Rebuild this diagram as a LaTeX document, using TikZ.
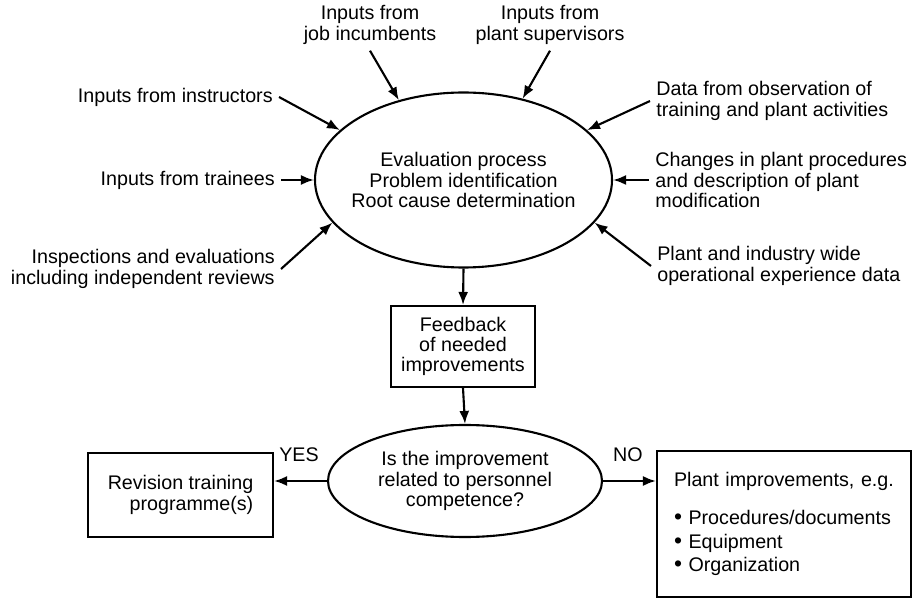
\documentclass[tikz,border=0pt]{standalone}
\usepackage{xcolor}
\usepackage{fontspec}
\setmainfont{Liberation Sans}
\usepackage{tikz}
\usetikzlibrary{arrows.meta}
\usetikzlibrary{shapes.geometric}

\begin{document}
\begin{tikzpicture}[
	lbl/.style={inner sep=0.12cm, font=\fontsize{11.2}{11.6}\selectfont},
	wire/.style={line width=1.2pt, -{Latex[length=0.26cm, width=0.2cm]}},
	outline/.style={draw, line width=1.2pt, inner sep=0}]
	\useasboundingbox (0, 0) rectangle (18.3, 12.12);
	% Paths, nodes and wires:
	\node[outline, shape=ellipse, minimum width=5.94cm, minimum height=3.5cm](Ell1) at (9.27, 8.52){} node[lbl, align=center](Txt9) at (Ell1.center){Evaluation process\\Problem identification\\Root cause determination};
	\node[outline, lbl, inner sep=0, shape=rectangle, minimum width=2.88cm, minimum height=1.62cm, align=center](Rect1) at (9.26, 5.19){Feedback\\of needed\\improvements};
	\node[outline, shape=ellipse, minimum width=5.48cm, minimum height=2.24cm](Ell2) at (9.3, 2.5){} node[lbl, align=center](Txt10) at (Ell2.center){Is the improvement\\related to personnel\\competence?};
	\node[outline, lbl, inner sep=0, shape=rectangle, minimum width=3.7cm, minimum height=1.68cm, align=right](Rect2) at (3.61, 2.22){Revision training\\programme(s)};
	\node[outline, lbl, shape=rectangle, minimum width=5.08cm, minimum height=2.92cm, inner xsep=0.34cm, inner ysep=0, text width=4.4cm, align=left](Rect3) at (15.68, 1.64){Plant improvements, e.g.\\[0.36cm]{\fontsize{13}{11.6}\selectfont\textbullet}\ Procedures/documents\\[0.06cm]{\fontsize{13}{11.6}\selectfont\textbullet}\ Equipment\\[0.06cm]{\fontsize{13}{11.6}\selectfont\textbullet}\ Organization};
	\node[lbl](Txt11) at (5.98, 3.02){YES};
	\node[lbl](Txt12) at (12.56, 3.02){NO};
	% Inputs round the evaluation:
	\node[lbl, align=center](Txt1) at (7.4, 11.62){Inputs from\\job incumbents};
	\node[lbl, align=center](Txt2) at (11.0, 11.62){Inputs from\\plant supervisors};
	\node[lbl, anchor=east](Txt3) at (5.58, 10.18){Inputs from instructors};
	\node[lbl, anchor=east](Txt4) at (5.62, 8.52){Inputs from trainees};
	\node[lbl, anchor=east, align=right](Txt5) at (5.62, 6.74){Inspections and evaluations\\including independent reviews};
	\node[lbl, anchor=west, align=left](Txt6) at (13.0, 10.1){Data from observation of\\training and plant activities};
	\node[lbl, anchor=west, align=left](Txt7) at (12.98, 8.52){Changes in plant procedures\\and description of plant\\modification};
	\node[lbl, anchor=west, align=left](Txt8) at (13.02, 6.8){Plant and industry wide\\operational experience data};
	\draw[wire] (Txt1.south) -- (Ell1.129);
	\draw[wire] (Txt2.south) -- (Ell1.54);
	\draw[wire] (Txt3.east) -- (Ell1.158);
	\draw[wire] (Txt4.east) -- (Ell1.180);
	\draw[wire] (Txt5.east) -- (Ell1.198);
	\draw[wire] (Txt6.west) -- (Ell1.22);
	\draw[wire] (Txt7.west) -- (Ell1.0);
	\draw[wire] (Txt8.west) -- (Ell1.-18);
	% Decision flow:
	\draw[wire] (Ell1.south) -- (Rect1.north);
	\draw[wire] (Rect1.south) -- (Ell2.north);
	\draw[wire] (Ell2.west) -- (Ell2.west -| Rect2.east);
	\draw[wire] (Ell2.east) -- (Ell2.east -| Rect3.west);
\end{tikzpicture}
\end{document}
